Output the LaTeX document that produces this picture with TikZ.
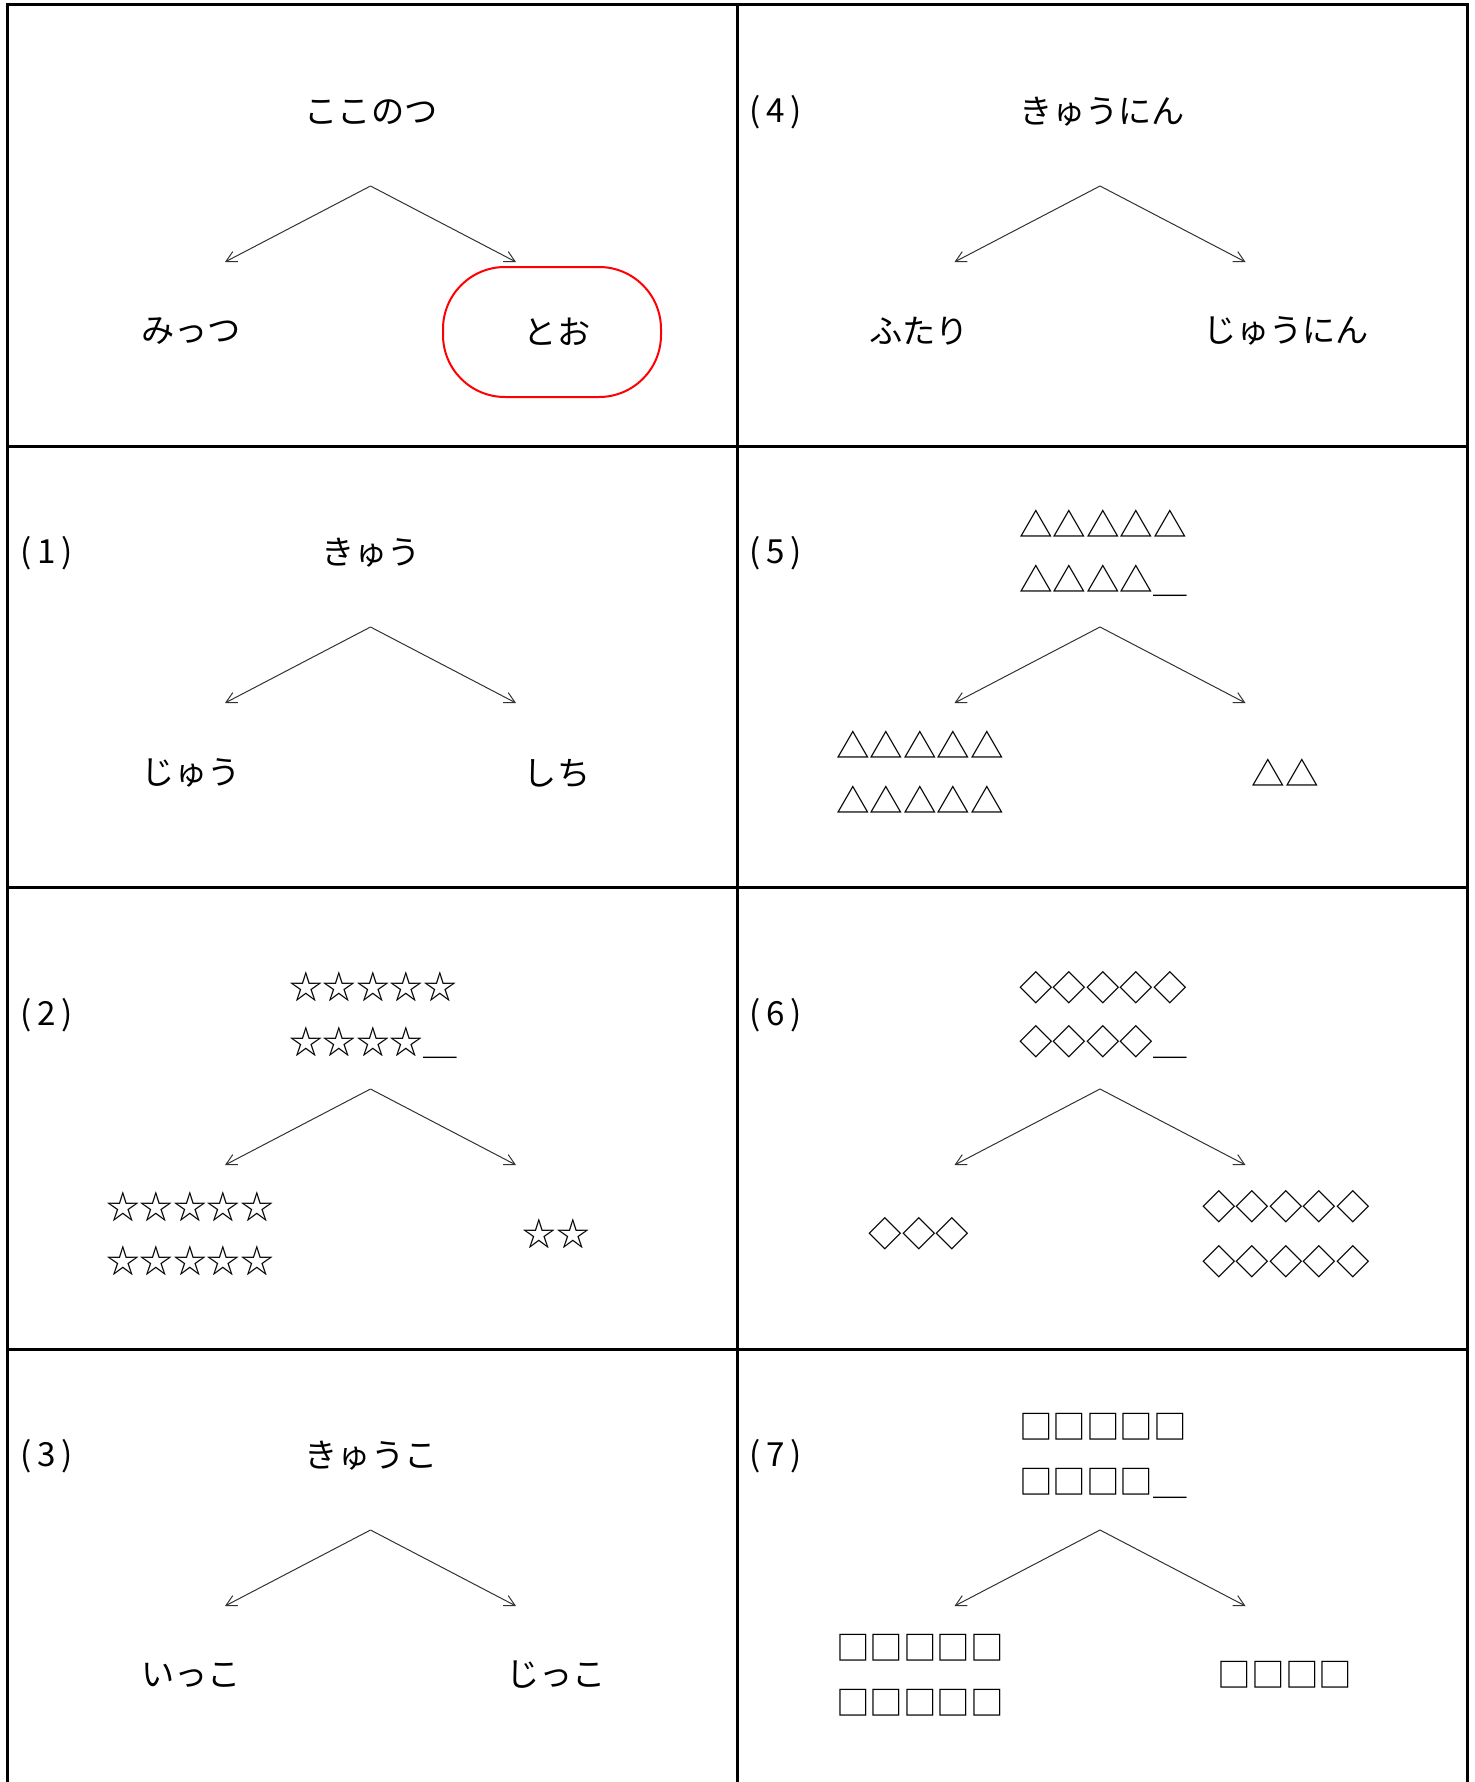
\documentclass[tikz,border=0pt]{standalone}
\usepackage{fontspec}
\setmainfont{Noto Sans CJK JP}
\usetikzlibrary{arrows.meta}
\newcommand\plabel[1]{(\kern2.8pt#1\kern2.8pt)}
\begin{document}
\begin{tikzpicture}[x=0.5pt,y=-0.5pt,
  txt/.style={inner sep=0pt, font=\fontsize{16.6}{27.25}\selectfont},
  sym/.style={inner sep=0pt, align=left, font=\fontsize{16.8}{27.25}\selectfont},
  lbl/.style={inner sep=0pt, anchor=west, font=\fontsize{16.6}{20}\selectfont},
  arr/.style={draw=black!80, line width=0.5pt, -{Straight Barb[length=5.3pt,width=5.6pt]}},
  gridline/.style={line width=1.5pt}]
\useasboundingbox (0,0) rectangle (1475,1782);
\fill[white] (0,0) rectangle (1475,1782);
% grid
\draw[gridline] (7,1790) -- (7,5) -- (1467,5) -- (1467,1790);
\draw[gridline] (737,5) -- (737,1790);
\draw[gridline] (7,446) -- (1467,446);
\draw[gridline] (7,887) -- (1467,887);
\draw[gridline] (7,1349) -- (1467,1349);

% ---------- row 1 ----------
\node[txt] (t0) at (371,112) {ここのつ};
\coordinate (a0) at (370.5,186);
\coordinate (a0l) at (225,262);
\coordinate (a0r) at (516,262);
\draw[arr] (a0) -- (a0l);
\draw[arr] (a0) -- (a0r);
\node[txt] (b0l) at (191,331) {みっつ};
\node[txt] (b0r) at (557,332) {とお};
\node[draw=red, line width=1pt, rounded corners=31pt, minimum width=109pt, minimum height=65pt, inner sep=0pt] (ans) at (552,332) {};

\node[lbl] (l4) at (749,112) {\plabel{4}};
\node[txt] (t4) at (1102,112) {きゅうにん};
\coordinate (a4) at (1100,186);
\coordinate (a4l) at (954.5,262);
\coordinate (a4r) at (1245.5,262);
\draw[arr] (a4) -- (a4l);
\draw[arr] (a4) -- (a4r);
\node[txt] (b4l) at (919,331) {ふたり};
\node[txt] (b4r) at (1286,331) {じゅうにん};

% ---------- row 2 ----------
\node[lbl] (l1) at (20,553) {\plabel{1}};
\node[txt] (t1) at (371,553) {きゅう};
\coordinate (a1) at (370.5,627);
\coordinate (a1l) at (225,703);
\coordinate (a1r) at (516,703);
\draw[arr] (a1) -- (a1l);
\draw[arr] (a1) -- (a1r);
\node[txt] (b1l) at (191,773) {じゅう};
\node[txt] (b1r) at (557,773) {しち};

\node[lbl] (l5) at (749,553) {\plabel{5}};
\node[sym] (t5) at (1103,553) {△△△△△\\△△△△＿};
\coordinate (a5) at (1100,627);
\coordinate (a5l) at (954.5,703);
\coordinate (a5r) at (1245.5,703);
\draw[arr] (a5) -- (a5l);
\draw[arr] (a5) -- (a5r);
\node[sym] (b5l) at (920,772) {△△△△△\\△△△△△};
\node[sym] (b5r) at (1285,773) {△△};

% ---------- row 3 ----------
\node[lbl] (l2) at (20,1015) {\plabel{2}};
\node[sym] (t2) at (373,1015) {☆☆☆☆☆\\☆☆☆☆＿};
\coordinate (a2) at (370.5,1089);
\coordinate (a2l) at (225,1165);
\coordinate (a2r) at (516,1165);
\draw[arr] (a2) -- (a2l);
\draw[arr] (a2) -- (a2r);
\node[sym] (b2l) at (190,1234) {☆☆☆☆☆\\☆☆☆☆☆};
\node[sym] (b2r) at (556,1234) {☆☆};

\node[lbl] (l6) at (749,1015) {\plabel{6}};
\node[sym] (t6) at (1103,1015) {◇◇◇◇◇\\◇◇◇◇＿};
\coordinate (a6) at (1100,1089);
\coordinate (a6l) at (954.5,1165);
\coordinate (a6r) at (1245.5,1165);
\draw[arr] (a6) -- (a6l);
\draw[arr] (a6) -- (a6r);
\node[sym] (b6l) at (919,1234) {◇◇◇};
\node[sym] (b6r) at (1286,1234) {◇◇◇◇◇\\◇◇◇◇◇};

% ---------- row 4 ----------
\node[lbl] (l3) at (20,1456) {\plabel{3}};
\node[txt] (t3) at (371,1456) {きゅうこ};
\coordinate (a3) at (370.5,1530);
\coordinate (a3l) at (225,1606);
\coordinate (a3r) at (516,1606);
\draw[arr] (a3) -- (a3l);
\draw[arr] (a3) -- (a3r);
\node[txt] (b3l) at (191,1675) {いっこ};
\node[txt] (b3r) at (556,1675) {じっこ};

\node[lbl] (l7) at (749,1456) {\plabel{7}};
\node[sym] (t7) at (1103,1456) {□□□□□\\□□□□＿};
\coordinate (a7) at (1100,1530);
\coordinate (a7l) at (954.5,1606);
\coordinate (a7r) at (1245.5,1606);
\draw[arr] (a7) -- (a7l);
\draw[arr] (a7) -- (a7r);
\node[sym] (b7l) at (920,1675) {□□□□□\\□□□□□};
\node[sym] (b7r) at (1285,1675) {□□□□};
\end{tikzpicture}
\end{document}
